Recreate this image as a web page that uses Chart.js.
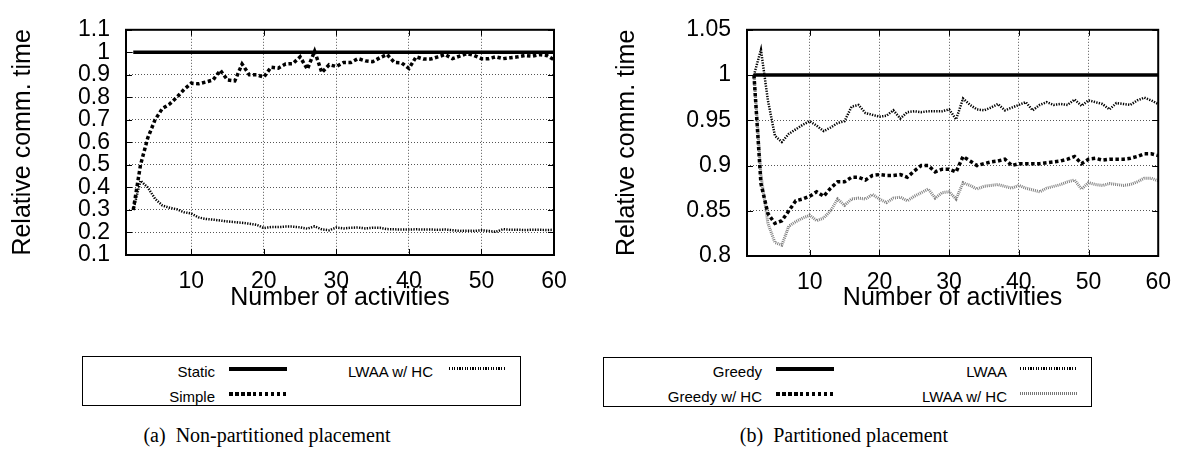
<!DOCTYPE html>
<html>
<head>
<meta charset="utf-8">
<script src="https://cdn.jsdelivr.net/npm/chart.js@4.4.1/dist/chart.umd.min.js"></script>
<style>
  body { margin: 0; width: 1184px; height: 452px; background: #fff; position: relative; overflow: hidden;
         font-family: "Liberation Sans", Arial, sans-serif; }
  canvas { position: absolute; top: 0; }
  #chart-a { left: 0; }
  #chart-b { left: 590px; }
  .legend { position: absolute; border: 1.5px solid #000; box-sizing: border-box; }
  .lg-text { position: absolute; font-size: 15px; line-height: 18px; text-align: right; white-space: nowrap; }
  .lg-line { position: absolute; }
  .caption { position: absolute; top: 424px; font-family: "Liberation Serif", "Times New Roman", serif;
             font-size: 20px; white-space: pre; transform: translateX(-50%); }
</style>
</head>
<body>
<canvas id="chart-a" width="580" height="320"></canvas>
<canvas id="chart-b" width="594" height="320"></canvas>
<div class="legend" style="left:82px;top:356px;width:439px;height:50px"></div>
<div class="legend" style="left:603px;top:357px;width:489px;height:50px"></div>
<div id="legends"></div>
<div class="caption" style="left:267px">(a)  Non-partitioned placement</div>
<div class="caption" style="left:844px">(b)  Partitioned placement</div>

<script>
// number of activities (x)
const activities = [2, 3, 4, 5, 6, 7, 8, 9, 10, 11, 12, 13, 14, 15, 16, 17, 18, 19, 20, 21,
  22, 23, 24, 25, 26, 27, 28, 29, 30, 31, 32, 33, 34, 35, 36, 37, 38, 39, 40, 41,
  42, 43, 44, 45, 46, 47, 48, 49, 50, 51, 52, 53, 54, 55, 56, 57, 58, 59, 60];

// (a) non-partitioned
const staticA = [1, 1, 1, 1, 1, 1, 1, 1, 1, 1, 1, 1, 1, 1, 1, 1, 1, 1, 1, 1,
  1, 1, 1, 1, 1, 1, 1, 1, 1, 1, 1, 1, 1, 1, 1, 1, 1, 1, 1, 1,
  1, 1, 1, 1, 1, 1, 1, 1, 1, 1, 1, 1, 1, 1, 1, 1, 1, 1, 1];
const simpleA = [0.30, 0.50, 0.62, 0.70, 0.75, 0.77, 0.80, 0.835, 0.863, 0.86, 0.868, 0.877, 0.92, 0.877, 0.873, 0.948, 0.90, 0.90, 0.89, 0.934,
  0.93, 0.948, 0.95, 0.98, 0.925, 1.005, 0.91, 0.945, 0.937, 0.955, 0.955, 0.972, 0.962, 0.958, 0.976, 0.99, 0.955, 0.953, 0.928, 0.98,
  0.97, 0.97, 0.98, 0.99, 0.972, 0.983, 0.994, 0.986, 0.972, 0.972, 0.98, 0.972, 0.976, 0.98, 0.986, 0.983, 0.99, 0.986, 0.967];
const lwaaHcA = [0.30, 0.43, 0.40, 0.35, 0.32, 0.31, 0.303, 0.29, 0.284, 0.267, 0.26, 0.257, 0.253, 0.249, 0.246, 0.243, 0.239, 0.234, 0.22, 0.224,
  0.224, 0.226, 0.226, 0.223, 0.217, 0.227, 0.214, 0.21, 0.222, 0.218, 0.221, 0.222, 0.218, 0.221, 0.221, 0.215, 0.214, 0.213, 0.213, 0.214,
  0.213, 0.213, 0.212, 0.213, 0.21, 0.207, 0.208, 0.207, 0.21, 0.207, 0.203, 0.215, 0.212, 0.212, 0.211, 0.212, 0.212, 0.211, 0.212];

// (b) partitioned
const greedyB = [1, 1, 1, 1, 1, 1, 1, 1, 1, 1, 1, 1, 1, 1, 1, 1, 1, 1, 1, 1,
  1, 1, 1, 1, 1, 1, 1, 1, 1, 1, 1, 1, 1, 1, 1, 1, 1, 1, 1, 1,
  1, 1, 1, 1, 1, 1, 1, 1, 1, 1, 1, 1, 1, 1, 1, 1, 1, 1, 1];
const greedyHcB = [1.0, 0.88, 0.847, 0.836, 0.839, 0.85, 0.861, 0.863, 0.866, 0.871, 0.866, 0.875, 0.882, 0.882, 0.887, 0.887, 0.884, 0.889, 0.89, 0.889,
  0.889, 0.89, 0.887, 0.894, 0.9, 0.9, 0.893, 0.896, 0.896, 0.893, 0.91, 0.905, 0.9, 0.902, 0.904, 0.905, 0.907, 0.9, 0.902, 0.902,
  0.902, 0.902, 0.903, 0.904, 0.905, 0.907, 0.91, 0.902, 0.907, 0.908, 0.906, 0.907, 0.907, 0.907, 0.908, 0.91, 0.913, 0.913, 0.911];
const lwaaB = [1.0, 1.028, 0.972, 0.933, 0.926, 0.935, 0.94, 0.945, 0.949, 0.944, 0.938, 0.942, 0.947, 0.949, 0.965, 0.967, 0.958, 0.956, 0.954, 0.955,
  0.961, 0.952, 0.959, 0.96, 0.959, 0.96, 0.96, 0.96, 0.962, 0.951, 0.974, 0.967, 0.962, 0.961, 0.964, 0.968, 0.961, 0.964, 0.967, 0.97,
  0.961, 0.967, 0.97, 0.967, 0.968, 0.967, 0.973, 0.966, 0.972, 0.97, 0.968, 0.962, 0.969, 0.968, 0.967, 0.972, 0.975, 0.972, 0.968];
const lwaaHcB = [1.0, 0.89, 0.836, 0.815, 0.812, 0.833, 0.838, 0.842, 0.845, 0.839, 0.842, 0.85, 0.863, 0.856, 0.863, 0.864, 0.863, 0.868, 0.863, 0.859,
  0.864, 0.865, 0.861, 0.866, 0.87, 0.874, 0.864, 0.87, 0.871, 0.863, 0.881, 0.878, 0.874, 0.877, 0.878, 0.879, 0.877, 0.875, 0.878, 0.875,
  0.873, 0.871, 0.875, 0.877, 0.879, 0.882, 0.884, 0.874, 0.881, 0.879, 0.878, 0.88, 0.879, 0.878, 0.879, 0.882, 0.886, 0.886, 0.883];

// tick labels
const xTicks = [10, 20, 30, 40, 50, 60];
const yTicksA = [0.1, 0.2, 0.3, 0.4, 0.5, 0.6, 0.7, 0.8, 0.9, 1.0, 1.1];
const yTicksB = [0.8, 0.85, 0.9, 0.95, 1.0, 1.05];

const sansFont = '"Liberation Sans", Arial, sans-serif';
Chart.defaults.color = '#000';
Chart.defaults.font.family = sansFont;

// line styles (chart + legend sample)
const styles = {
  solid: { borderColor: '#000', borderWidth: 3.5, borderDash: [],
    css: 'height:4px;background:#000' },
  thick: { borderColor: '#000', borderWidth: 3.5, borderDash: [3.5, 2.5],
    css: 'height:4px;background:repeating-linear-gradient(90deg,#000 0 3.5px,transparent 3.5px 6px)' },
  thin: { borderColor: '#000', borderWidth: 2.5, borderDash: [1.3, 1.3],
    css: 'height:2.5px;background:repeating-linear-gradient(90deg,#000 0 1.3px,transparent 1.3px 2.6px)' },
  grey: { borderColor: '#808080', borderWidth: 3, borderDash: [1, 1],
    css: 'height:3px;background:repeating-linear-gradient(90deg,#777 0 1px,transparent 1px 2px)' }
};

// plot frame with inward tick marks on all four sides
const framePlugin = {
  id: 'frame',
  afterDatasetsDraw(chart) {
    const { ctx, chartArea: a, scales } = chart;
    ctx.save();
    ctx.strokeStyle = '#000';
    ctx.lineWidth = 1;
    ctx.beginPath();
    scales.y.ticks.forEach(t => {
      const y = Math.round(scales.y.getPixelForValue(t.value)) + 0.5;
      ctx.moveTo(a.left, y); ctx.lineTo(a.left + 6, y);
      ctx.moveTo(a.right, y); ctx.lineTo(a.right - 6, y);
    });
    scales.x.ticks.forEach(t => {
      const x = Math.round(scales.x.getPixelForValue(t.value)) + 0.5;
      ctx.moveTo(x, a.bottom); ctx.lineTo(x, a.bottom - 6);
      ctx.moveTo(x, a.top); ctx.lineTo(x, a.top + 6);
    });
    ctx.stroke();
    ctx.lineWidth = 2;
    ctx.strokeRect(a.left, a.top, a.right - a.left, a.bottom - a.top);
    ctx.restore();
  }
};

const series = (label, values, style) => ({
  label,
  data: activities.map((x, i) => ({ x, y: values[i] })),
  borderColor: styles[style].borderColor,
  borderWidth: styles[style].borderWidth,
  borderDash: styles[style].borderDash,
  pointRadius: 0,
  tension: 0,
  fill: false
});

const fmt = v => String(+v.toFixed(2));

const gridOpts = { display: true, drawOnChartArea: true, color: '#555', lineWidth: 1, drawTicks: false };

const makeChart = (id, datasets, yTicks, yMin, yMax, box) => new Chart(document.getElementById(id), {
  type: 'line',
  data: { datasets },
  options: {
    responsive: false,
    animation: false,
    layout: { padding: { top: box.top, right: box.right, bottom: 0, left: 0 } },
    plugins: { legend: { display: false }, tooltip: { enabled: false } },
    scales: {
      x: {
        type: 'linear', min: 1, max: 60,
        afterBuildTicks: s => { s.ticks = xTicks.map(v => ({ value: v })); },
        afterFit: s => { s.height = box.xh; },
        ticks: { font: { size: 23 }, padding: 13, maxRotation: 0, autoSkip: false },
        grid: gridOpts,
        border: { display: false, dash: [1, 2] },
        title: { display: true, text: 'Number of activities', font: { size: 25 }, padding: { bottom: 7 } }
      },
      y: {
        type: 'linear', min: yMin, max: yMax,
        afterBuildTicks: s => { s.ticks = yTicks.map(v => ({ value: v })); },
        afterFit: s => { s.width = box.yw; },
        ticks: { font: { size: 23 }, padding: 16, callback: fmt, autoSkip: false },
        grid: gridOpts,
        border: { display: false, dash: [1, 2] },
        title: { display: true, text: 'Relative comm. time', font: { size: 25 }, padding: { top: box.tp } }
      }
    }
  },
  plugins: [framePlugin]
});

makeChart('chart-a', [
  series('Static', staticA, 'solid'),
  series('Simple', simpleA, 'thick'),
  series('LWAA w/ HC', lwaaHcA, 'thin')
], yTicksA, 0.1, 1.1, { top: 18, right: 26, xh: 65, yw: 126, tp: 8 });

makeChart('chart-b', [
  series('Greedy', greedyB, 'solid'),
  series('Greedy w/ HC', greedyHcB, 'thick'),
  series('LWAA', lwaaB, 'thin'),
  series('LWAA w/ HC', lwaaHcB, 'grey')
], yTicksB, 0.8, 1.05, { top: 19, right: 25, xh: 64, yw: 157, tp: 22 });

// legends below the charts
const legendItems = [
  { label: 'Static', style: 'solid', textRight: 215, x0: 229, x1: 287, row: 0 },
  { label: 'Simple', style: 'thick', textRight: 215, x0: 229, x1: 287, row: 1 },
  { label: 'LWAA w/ HC', style: 'thin', textRight: 433, x0: 449, x1: 506, row: 0 },
  { label: 'Greedy', style: 'solid', textRight: 762, x0: 776, x1: 834, row: 0 },
  { label: 'Greedy w/ HC', style: 'thick', textRight: 762, x0: 776, x1: 834, row: 1 },
  { label: 'LWAA', style: 'thin', textRight: 1007, x0: 1020, x1: 1077, row: 0 },
  { label: 'LWAA w/ HC', style: 'grey', textRight: 1007, x0: 1020, x1: 1077, row: 1 }
];
const rowY = [372, 397];
const holder = document.getElementById('legends');
legendItems.forEach(it => {
  const t = document.createElement('div');
  t.className = 'lg-text';
  t.textContent = it.label;
  t.style.right = (1184 - it.textRight) + 'px';
  t.style.top = (rowY[it.row] - 9) + 'px';
  holder.appendChild(t);
  const l = document.createElement('div');
  l.className = 'lg-line';
  l.style.cssText += styles[it.style].css;
  l.style.left = it.x0 + 'px';
  l.style.width = (it.x1 - it.x0) + 'px';
  l.style.top = (rowY[it.row] - 5) + 'px';
  holder.appendChild(l);
});
</script>
</body>
</html>
